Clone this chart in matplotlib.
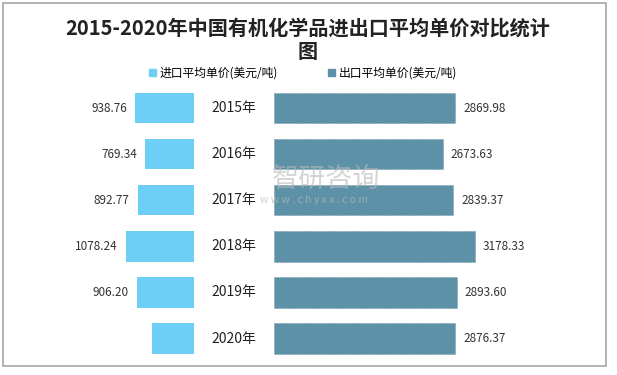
import matplotlib
matplotlib.use("Agg")
import matplotlib.pyplot as plt
from matplotlib.patches import Patch, Rectangle

plt.rcParams['font.family'] = ['Noto Sans CJK SC', 'DejaVu Sans']

years = ["2015年", "2016年", "2017年", "2018年", "2019年", "2020年"]
import_price = [938.76, 769.34, 892.77, 1078.24, 906.20, 665.0]
export_price = [2869.98, 2673.63, 2839.37, 3178.33, 2893.60, 2876.37]
import_labels = ["938.76", "769.34", "892.77", "1078.24", "906.20", ""]
export_labels = ["2869.98", "2673.63", "2839.37", "3178.33", "2893.60", "2876.37"]

title = "2015-2020年中国有机化学品进出口平均单价对比统计\n图"
legend_names = ["进口平均单价(美元/吨)", "出口平均单价(美元/吨)"]

c_imp = "#6dcff6"
c_exp = "#5d91a7"

W, H = 617, 375
fig = plt.figure(figsize=(W / 100, H / 100), dpi=100)
ax = fig.add_axes([0, 0, 1, 1])

# pixel mapping: center at 234 px, 0.0631 px per unit, rows 46.1 px apart
scale = 0.0631
cx = 234
gap = 40 / scale
ax.set_xlim(-cx / scale, (W - cx) / scale)
ax.set_ylim((H - 108) / 46.1, -108 / 46.1)
ax.axis("off")

pos = list(range(len(years)))
ax.barh(pos, [-v for v in import_price], left=-gap, height=0.66, color=c_imp)
ax.barh(pos, export_price, left=gap, height=0.66, color=c_exp,
        edgecolor="#4f7f93", linewidth=0.5, linestyle=":")

pad = 8 / scale
for i, y in enumerate(years):
    ax.text(0, i, y, ha="center", va="center", fontsize=10, color="#222222")
    if import_labels[i]:
        ax.text(-gap - import_price[i] - pad, i, import_labels[i], ha="right",
                va="center", fontsize=8.5, color="#333333")
    ax.text(gap + export_price[i] + pad, i, export_labels[i], ha="left",
            va="center", fontsize=8.5, color="#333333")

# watermark
fig.text(272 / W, 1 - 179 / H, "智研咨询", fontsize=19.5, color="#b8b8b8",
         alpha=0.6, va="center", ha="left")
fig.text(260 / W, 1 - 200 / H, "w w w . c h y x x . c o m", fontsize=7.5,
         color="#b8b8b8", alpha=0.7, va="center", ha="left")

fig.text(308 / W, 1 - 40 / H, title, ha="center", va="center", fontsize=14.5,
         fontweight="bold", color="#222222", linespacing=1.15)

handles = [Patch(color=c_imp), Patch(color=c_exp)]
fig.legend(handles, legend_names, loc="center", bbox_to_anchor=(303 / W, 1 - 73 / H),
           ncol=2, frameon=False, fontsize=8.5, handlelength=0.6, handleheight=0.6,
           handletextpad=0.3, columnspacing=4.3)

fig.patches.append(Rectangle((3 / W, 1 - 366 / H), 603 / W, 363 / H,
                             transform=fig.transFigure, fill=False,
                             edgecolor="#a6a6a6", linewidth=1.2))

fig.savefig("out.png", dpi=100)
